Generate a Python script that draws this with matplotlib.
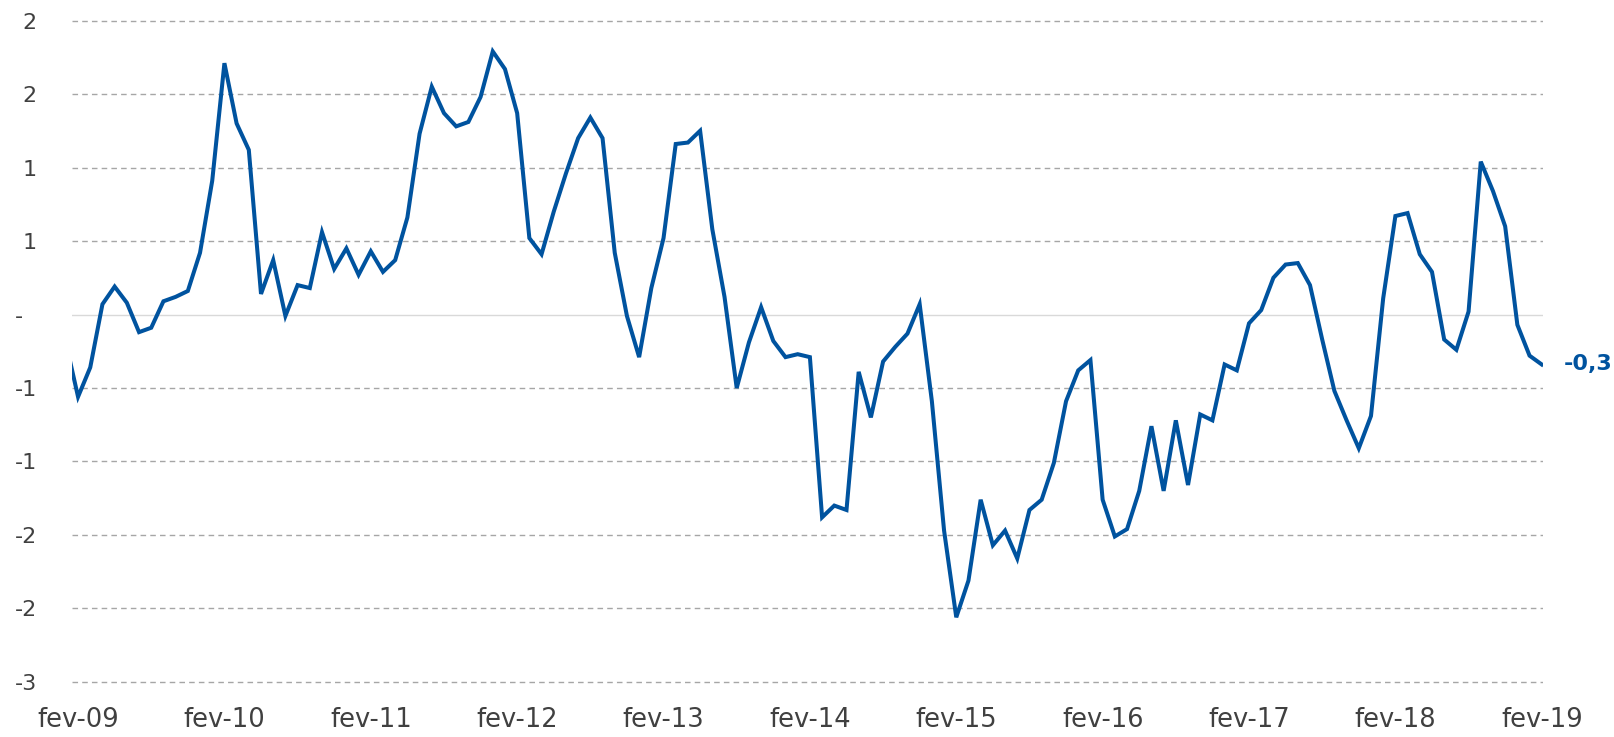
import matplotlib.pyplot as plt
import matplotlib.ticker as mticker

# monthly values, jan-09 .. fev-19 (jan-09 is cut off at the left edge)
valores = [
    -0.19,
    -0.56, -0.36, 0.07, 0.19, 0.08, -0.12, -0.09, 0.09, 0.12, 0.16, 0.42, 0.91,
    1.71, 1.30, 1.12, 0.14, 0.37, -0.01, 0.20, 0.18, 0.56, 0.31, 0.45, 0.27,
    0.43, 0.29, 0.37, 0.66, 1.23, 1.55, 1.37, 1.28, 1.31, 1.48, 1.79, 1.67,
    1.37, 0.52, 0.41, 0.70, 0.96, 1.20, 1.34, 1.20, 0.42, -0.01, -0.29, 0.18,
    0.52, 1.16, 1.17, 1.25, 0.58, 0.12, -0.50, -0.19, 0.05, -0.18, -0.29, -0.27,
    -0.29, -1.38, -1.30, -1.33, -0.39, -0.70, -0.32, -0.22, -0.13, 0.07, -0.59, -1.47,
    -2.06, -1.81, -1.26, -1.57, -1.47, -1.66, -1.33, -1.26, -1.01, -0.59, -0.38, -0.31,
    -1.26, -1.51, -1.46, -1.20, -0.76, -1.20, -0.72, -1.16, -0.68, -0.72, -0.34, -0.38,
    -0.06, 0.03, 0.25, 0.34, 0.35, 0.20, -0.17, -0.52, -0.72, -0.91, -0.69, 0.11,
    0.67, 0.69, 0.41, 0.29, -0.17, -0.24, 0.02, 1.04, 0.84, 0.60, -0.07, -0.28,
    -0.34,
]
meses = list(range(-1, len(valores) - 1))
rotulos_x = ['fev-09', 'fev-10', 'fev-11', 'fev-12', 'fev-13', 'fev-14',
             'fev-15', 'fev-16', 'fev-17', 'fev-18', 'fev-19']
ticks_y = [-2.5, -2.0, -1.5, -1.0, -0.5, 0.0, 0.5, 1.0, 1.5, 2.0]
rotulo_final = '-0,3'

azul = '#00539F'
cinza_txt = '#404040'

fig = plt.figure(figsize=(16.15, 7.37), dpi=100)
ax = fig.add_axes([0.0444, 0.0687, 0.9110, 0.9094])

ax.plot(meses, valores, color=azul, lw=2.9, solid_joinstyle='miter', zorder=3)

ax.set_xlim(-0.52, 120.1)
ax.set_ylim(-2.53, 2.03)

for v in ticks_y:
    if v == 0:
        ax.axhline(v, color='#D9D9D9', lw=1.0, zorder=1)
    else:
        ax.axhline(v, color='#A6A6A6', lw=1.0, ls=(0, (4, 3)), zorder=1)


def fmt_y(v, pos):
    if abs(v) < 1e-9:
        return '-  '
    # excel style, rounded to integer (half away from zero)
    r = int(abs(v) + 0.5)
    return ('-' if v < 0 else '') + str(r)


ax.set_yticks(ticks_y)
ax.yaxis.set_major_formatter(mticker.FuncFormatter(fmt_y))
ax.set_xticks(range(0, 121, 12))
ax.set_xticklabels(rotulos_x, fontfamily='Liberation Sans Narrow', fontsize=18.5)
ax.tick_params(axis='x', length=0, pad=15, colors=cinza_txt)
ax.tick_params(axis='y', length=0, pad=25, colors=cinza_txt, labelsize=16)

for s in ax.spines.values():
    s.set_visible(False)

ax.annotate(rotulo_final, xy=(meses[-1], valores[-1]), xytext=(16, 0),
            textcoords='offset points', va='center', ha='left',
            color=azul, fontsize=16, fontweight='bold', annotation_clip=False)

fig.savefig('out.png', dpi=100)
